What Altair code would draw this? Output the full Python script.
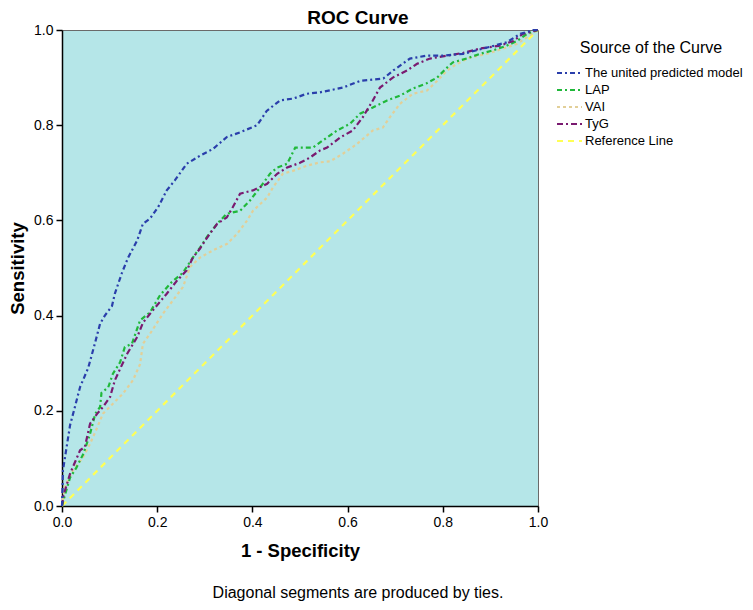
import altair as alt
import pandas as pd

series = ["The united predicted model", "LAP", "VAI", "TyG", "Reference Line"]
colors = ["#2a3eab", "#20b83a", "#e2cf98", "#7a1a70", "#ffff55"]
dashes = [[5, 3, 2, 3], [5, 3, 2, 3], [3, 3], [6, 3, 2, 3], [6, 5]]
legend_title = ["Source of the Curve"]

united_x = [0, 0.002, 0.017, 0.025, 0.038, 0.055, 0.069, 0.08, 0.09, 0.105, 0.111, 0.126, 0.139, 0.158,
            0.17, 0.185, 0.202, 0.22, 0.237, 0.262, 0.29, 0.317, 0.346, 0.374, 0.41, 0.43, 0.458, 0.486,
            0.514, 0.542, 0.59, 0.626, 0.675, 0.696, 0.731, 0.766, 0.8, 0.843, 0.885, 0.934, 0.963, 0.99, 1]
united_y = [0, 0.075, 0.17, 0.2, 0.25, 0.29, 0.341, 0.383, 0.4, 0.42, 0.446, 0.49, 0.522, 0.558,
            0.593, 0.604, 0.628, 0.663, 0.684, 0.719, 0.736, 0.75, 0.775, 0.785, 0.8, 0.83, 0.852, 0.856,
            0.866, 0.869, 0.879, 0.893, 0.898, 0.915, 0.94, 0.946, 0.946, 0.95, 0.961, 0.974, 0.992, 1.0, 1]

lap_x = [0, 0.003, 0.017, 0.03, 0.045, 0.059, 0.07, 0.08, 0.083, 0.097, 0.107, 0.122, 0.132, 0.147,
         0.164, 0.185, 0.206, 0.23, 0.254, 0.275, 0.29, 0.305, 0.326, 0.346, 0.374, 0.395, 0.416, 0.437,
         0.452, 0.473, 0.49, 0.527, 0.548, 0.578, 0.605, 0.626, 0.653, 0.683, 0.71, 0.737, 0.766, 0.788,
         0.809, 0.821, 0.85, 0.878, 0.905, 0.934, 0.956, 0.977, 1]
lap_y = [0, 0.012, 0.06, 0.08, 0.11, 0.152, 0.194, 0.208, 0.238, 0.249, 0.278, 0.302, 0.334, 0.341,
         0.39, 0.407, 0.443, 0.47, 0.49, 0.522, 0.543, 0.566, 0.593, 0.614, 0.62, 0.642, 0.669, 0.698,
         0.711, 0.719, 0.753, 0.753, 0.768, 0.789, 0.803, 0.824, 0.837, 0.852, 0.862, 0.877, 0.888, 0.9,
         0.921, 0.932, 0.94, 0.95, 0.957, 0.967, 0.977, 0.992, 1]

vai_x = [0, 0.006, 0.023, 0.044, 0.059, 0.074, 0.086, 0.107, 0.128, 0.149, 0.164, 0.17, 0.185, 0.212,
         0.233, 0.254, 0.269, 0.29, 0.317, 0.347, 0.368, 0.389, 0.401, 0.431, 0.443, 0.464, 0.485, 0.515,
         0.542, 0.563, 0.59, 0.619, 0.653, 0.674, 0.689, 0.71, 0.737, 0.767, 0.788, 0.809, 0.83, 0.857,
         0.893, 0.927, 0.956, 0.977, 1]
vai_y = [0, 0.04, 0.075, 0.102, 0.131, 0.165, 0.194, 0.215, 0.236, 0.264, 0.298, 0.341, 0.362, 0.404,
         0.432, 0.46, 0.502, 0.522, 0.537, 0.551, 0.572, 0.6, 0.62, 0.648, 0.669, 0.698, 0.704, 0.715,
         0.722, 0.724, 0.74, 0.76, 0.789, 0.795, 0.817, 0.845, 0.866, 0.873, 0.893, 0.915, 0.929, 0.942,
         0.95, 0.961, 0.971, 0.985, 1]

tyg_x = [0, 0.003, 0.017, 0.038, 0.048, 0.059, 0.074, 0.086, 0.101, 0.111, 0.122, 0.137, 0.158, 0.17,
         0.185, 0.22, 0.242, 0.262, 0.275, 0.29, 0.305, 0.326, 0.346, 0.359, 0.374, 0.401, 0.431, 0.452,
         0.473, 0.5, 0.521, 0.542, 0.557, 0.584, 0.611, 0.632, 0.653, 0.668, 0.695, 0.725, 0.746, 0.773,
         0.809, 0.843, 0.878, 0.92, 0.948, 0.968, 1]
tyg_y = [0, 0.022, 0.068, 0.117, 0.124, 0.173, 0.194, 0.208, 0.229, 0.264, 0.288, 0.32, 0.355, 0.385,
         0.404, 0.446, 0.474, 0.495, 0.522, 0.541, 0.564, 0.593, 0.606, 0.628, 0.656, 0.663, 0.677, 0.698,
         0.711, 0.721, 0.732, 0.747, 0.753, 0.774, 0.789, 0.817, 0.852, 0.879, 0.9, 0.915, 0.929, 0.94,
         0.946, 0.952, 0.961, 0.967, 0.977, 0.992, 1]

ref_x = [0, 1]
ref_y = [0, 1]

footnote = ["Diagonal segments are produced by ties."]

rows = []
for name, xs, ys in [(series[4], ref_x, ref_y), (series[2], vai_x, vai_y), (series[1], lap_x, lap_y),
                     (series[3], tyg_x, tyg_y), (series[0], united_x, united_y)]:
    for i, (a, b) in enumerate(zip(xs, ys)):
        rows.append({"series": name, "fpr": a, "tpr": b, "i": i})
df = pd.DataFrame(rows)
leg_df = pd.DataFrame({"series": series})

FONT = "Liberation Sans"

color_enc = alt.Color("series:N", scale=alt.Scale(domain=series, range=colors), legend=None)
dash_enc = alt.StrokeDash("series:N", scale=alt.Scale(domain=series, range=dashes), legend=None)

lines = alt.Chart(df).mark_line(strokeWidth=2.2).encode(
    x=alt.X("fpr:Q", scale=alt.Scale(domain=[0, 1], nice=False),
            axis=alt.Axis(title="1 - Specificity", values=[0, 0.2, 0.4, 0.6, 0.8, 1.0], format=".1f",
                          titlePadding=12, labelFlush=False)),
    y=alt.Y("tpr:Q", scale=alt.Scale(domain=[0, 1], nice=False),
            axis=alt.Axis(title="Sensitivity", values=[0, 0.2, 0.4, 0.6, 0.8, 1.0], format=".1f",
                          titlePadding=6, labelFlush=False)),
    color=color_enc,
    strokeDash=dash_enc,
    order=alt.Order("i:Q"),
)

# legend, drawn from the same colour and dash scales
leg_scale = alt.Scale(type="point", domain=series, range=[43, 111], padding=0)
leg_rules = alt.Chart(leg_df).mark_rule(strokeWidth=2).encode(
    x=alt.value(495), x2=alt.value(520),
    y=alt.Y("series:N", sort=series, scale=leg_scale, axis=None),
    color=color_enc, strokeDash=dash_enc,
)
leg_text = alt.Chart(leg_df).mark_text(
    font=FONT, fontSize=13, color="black", align="left", baseline="middle"
).encode(x=alt.value(523), y=alt.Y("series:N", sort=series, scale=leg_scale, axis=None), text="series:N")
leg_title = alt.Chart(pd.DataFrame({"t": legend_title})).mark_text(
    font=FONT, fontSize=16, color="black", align="center", baseline="middle"
).encode(text="t:N", x=alt.value(589), y=alt.value(18))

note = alt.Chart(pd.DataFrame({"t": footnote})).mark_text(
    font=FONT, fontSize=16, color="black", align="center", baseline="middle"
).encode(text="t:N", x=alt.value(296), y=alt.value(563))

chart = alt.layer(lines, leg_rules, leg_text, leg_title, note).resolve_scale(y="independent").properties(
    width=476, height=476,
    title=alt.TitleParams("ROC Curve", font=FONT, fontSize=19, fontWeight="bold", color="black",
                          anchor="middle", frame="group", dx=58, offset=-5),
    padding={"left": 54, "top": 22, "right": 207, "bottom": 96},
    autosize=alt.AutoSizeParams(type="none"),
).configure_view(
    fill="#b5e6e8", stroke="#6a6a6a", strokeWidth=1
).configure_axis(
    grid=False, domainColor="black", domainWidth=1.5, tickColor="black", tickSize=6, tickWidth=1.5,
    labelFont=FONT, labelFontSize=14, labelColor="black", labelPadding=3,
    titleFont=FONT, titleFontSize=18.5, titleFontWeight="bold", titleColor="black",
)

chart.save("out.html", embed_options={"renderer": "svg", "actions": False})
